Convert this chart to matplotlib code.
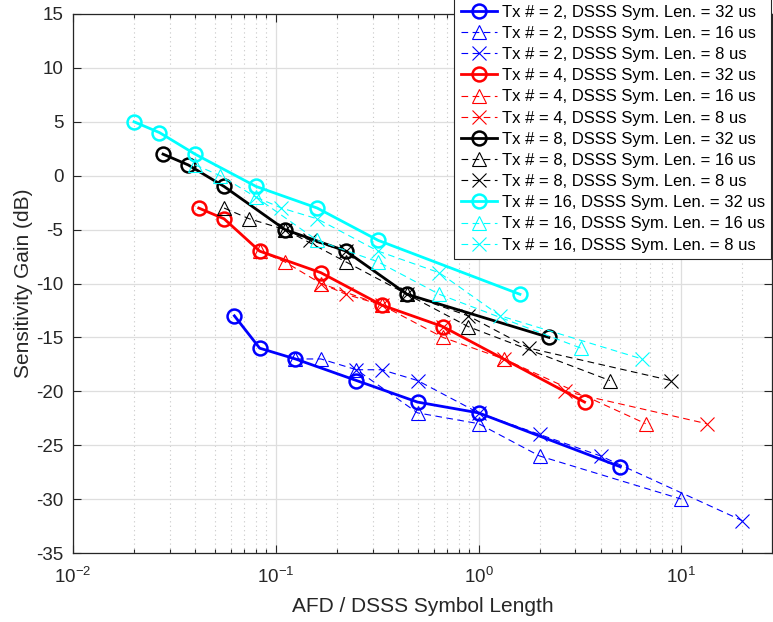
import numpy as np
import matplotlib
matplotlib.use("Agg")
import matplotlib.pyplot as plt
from matplotlib.ticker import LogLocator, NullFormatter, FixedLocator

plt.rcParams['font.family'] = ['Liberation Sans', 'DejaVu Sans']
plt.rcParams['mathtext.default'] = 'regular'
plt.rcParams['axes.unicode_minus'] = False

# Tx # = 2
tx2_x32 = [0.0625, 0.0833, 0.125, 0.25, 0.5, 1.0, 5.0]
tx2_y32 = [-13, -16, -17, -19, -21, -22, -27]
tx2_x16 = [0.125, 0.167, 0.25, 0.5, 1.0, 2.0, 10.0]
tx2_y16 = [-17, -17, -18, -22, -23, -26, -30]
tx2_x8 = [0.25, 0.333, 0.5, 1.0, 2.0, 4.0, 20.0]
tx2_y8 = [-18, -18, -19, -22, -24, -26, -32]

# Tx # = 4
tx4_x32 = [0.0417, 0.0556, 0.0833, 0.167, 0.333, 0.667, 3.333]
tx4_y32 = [-3, -4, -7, -9, -12, -14, -21]
tx4_x16 = [0.0833, 0.111, 0.167, 0.333, 0.667, 1.333, 6.667]
tx4_y16 = [-7, -8, -10, -12, -15, -17, -23]
tx4_x8 = [0.167, 0.222, 0.333, 0.667, 1.333, 2.667, 13.33]
tx4_y8 = [-10, -11, -12, -14, -17, -20, -23]

# Tx # = 8
tx8_x32 = [0.0278, 0.037, 0.0556, 0.111, 0.222, 0.444, 2.222]
tx8_y32 = [2, 1, -1, -5, -7, -11, -15]
tx8_x16 = [0.0556, 0.0741, 0.111, 0.222, 0.444, 0.889, 4.444]
tx8_y16 = [-3, -4, -5, -8, -11, -14, -19]
tx8_x8 = [0.111, 0.148, 0.222, 0.444, 0.889, 1.778, 8.889]
tx8_y8 = [-5, -6, -7, -11, -13, -16, -19]

# Tx # = 16
tx16_x32 = [0.02, 0.0267, 0.04, 0.08, 0.16, 0.32, 1.6]
tx16_y32 = [5, 4, 2, -1, -3, -6, -11]
tx16_x16 = [0.04, 0.0533, 0.08, 0.16, 0.32, 0.64, 3.2]
tx16_y16 = [1, 0, -2, -6, -8, -11, -16]
tx16_x8 = [0.08, 0.1067, 0.16, 0.32, 0.64, 1.28, 6.4]
tx16_y8 = [-2, -3, -4, -7, -9, -13, -17]

tx_counts = [2, 4, 8, 16]
sym_lens = [32, 16, 8]
series = {
    2: [(tx2_x32, tx2_y32), (tx2_x16, tx2_y16), (tx2_x8, tx2_y8)],
    4: [(tx4_x32, tx4_y32), (tx4_x16, tx4_y16), (tx4_x8, tx4_y8)],
    8: [(tx8_x32, tx8_y32), (tx8_x16, tx8_y16), (tx8_x8, tx8_y8)],
    16: [(tx16_x32, tx16_y32), (tx16_x16, tx16_y16), (tx16_x8, tx16_y8)],
}
colors = {2: (0, 0, 1), 4: (1, 0, 0), 8: (0, 0, 0), 16: (0, 1, 1)}
dashed = (0, (6, 4))
styles = [  # marker, linestyle, linewidth, markersize, edge width
    ('o', '-', 2.0, 10, 1.8),
    ('^', dashed, 0.8, 10.5, 0.8),
    ('x', dashed, 0.8, 9.5, 0.8),
]

fig = plt.figure(figsize=(7.73, 6.22), dpi=100)
ax = fig.add_axes([73/773, 69/622, 699/773, 539/622])
dark = (0.15, 0.15, 0.15)

for tx in tx_counts:
    for (xs, ys), sl, (mk, ls, lw, ms, mew) in zip(series[tx], sym_lens, styles):
        ax.plot(xs, ys, color=colors[tx], marker=mk, linestyle=ls, linewidth=lw,
                markersize=ms, markeredgewidth=mew, markerfacecolor='none',
                label=f'Tx # = {tx}, DSSS Sym. Len. = {sl} us')

ax.set_xscale('log')
ax.set_xlim(0.01, 28)
ax.set_ylim(-35, 15)
ax.set_yticks(np.arange(-35, 16, 5))
ax.xaxis.set_major_locator(FixedLocator([0.01, 0.1, 1, 10]))
ax.set_xticklabels(['$10^{-2}$', '$10^{-1}$', '$10^{0}$', '$10^{1}$'])
ax.xaxis.set_minor_locator(LogLocator(base=10, subs=np.arange(2, 10), numticks=20))
ax.xaxis.set_minor_formatter(NullFormatter())

ax.grid(True, which='major', color=(0.87, 0.87, 0.87), linewidth=0.9)
ax.grid(True, which='minor', axis='x', color=(0.78, 0.78, 0.78), linestyle=(0, (1, 3)), linewidth=0.8)
ax.set_axisbelow(True)

ax.tick_params(which='both', direction='in', top=True, right=True, colors=dark,
               labelsize=13.5, width=0.8)
ax.tick_params(which='major', length=6)
ax.tick_params(axis='x', which='major', pad=10)
ax.tick_params(axis='y', which='major', pad=7)
ax.tick_params(which='minor', length=3)
for s in ax.spines.values():
    s.set_color(dark)
    s.set_linewidth(0.9)

ax.set_xlabel('AFD / DSSS Symbol Length', fontsize=15, color=dark, labelpad=7)
ax.set_ylabel('Sensitivity Gain (dB)', fontsize=15, color=dark, labelpad=2)

leg = ax.legend(loc='upper left', bbox_to_anchor=(454/773, 1.003), bbox_transform=fig.transFigure,
                fontsize=12.0, frameon=True, fancybox=False, handlelength=2.2,
                handletextpad=0.25, labelspacing=0.37, borderpad=0.4, borderaxespad=0)
leg.get_frame().set_edgecolor(dark)
leg.get_frame().set_linewidth(0.8)
leg.get_frame().set_alpha(1)

fig.savefig('out.png', dpi=100)
